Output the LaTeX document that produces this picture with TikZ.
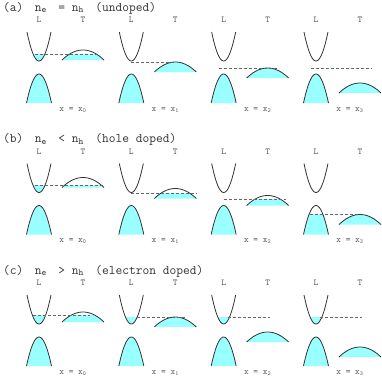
\documentclass[tikz,border=0pt]{standalone}
\usepackage{fontspec}
\definecolor{occcyan}{RGB}{153,255,255}
\newcommand{\carrier}[1]{n\makebox[10pt][l]{\textsubscript{#1}}}
\begin{document}
\begin{tikzpicture}[x=1pt,y=-1pt,
  band/.style={draw=black!80,line width=0.8pt},
  occ/.style={fill=occcyan},
  fermi/.style={draw=black!60,line width=0.6pt,dash pattern=on 3pt off 2pt},
  title/.style={anchor=west,inner sep=0pt,font=\fontsize{13.1}{13.1}\selectfont\ttfamily,text=black!80},
  lab/.style={inner sep=0pt,font=\fontsize{9}{9}\selectfont\ttfamily,text=black!65}]
  \useasboundingbox (0,0) rectangle (382,380);
  % panel titles
  \foreach \pan/\tit in {0/{(a)\hspace{11.4pt}\carrier{e} = \carrier{h}\ (undoped)},
                         1/{(b)\hspace{11.4pt}\carrier{e} < \carrier{h}\ (hole doped)},
                         2/{(c)\hspace{11.4pt}\carrier{e} > \carrier{h}\ (electron doped)}}
    \node[title] (title-\pan) at (3,{8+131.5*\pan}) {\tit};
  % panel/column/top of T band/Fermi level/dashes from/to
  \foreach \pan/\col/\tp/\ef/\da/\db in {0/0/50/54/-4/58, 0/1/62/62/0/44, 0/2/68/68/-5/55, 0/3/83/68/-5/56,
                                         1/0/46/54/-4/65, 1/1/57/62/0/66, 1/2/64/68/0/62, 1/3/83/83/-6/44,
                                         2/0/49/52/-6/51, 2/1/54/54/6/54, 2/2/69/54/4/46, 2/3/84/54/4/46} {
    \pgfmathsetmacro{\Y}{131.5*\pan}
    \pgfmathsetmacro{\X}{39+92.33*\col}
    % L conduction band
    \begin{scope}
      \clip (\X-15,\Y+\ef) rectangle (\X+15,\Y+62);
      \fill[occ] plot[domain=-12:12,samples=25] ({\X+\x},{\Y+61-29*(\x/12)^2}) -- cycle;
    \end{scope}
    \draw[band] plot[domain=-12:12,samples=25] ({\X+\x},{\Y+61-29*(\x/12)^2});
    % L valence band
    \begin{scope}
      \clip (\X-15,\Y+\ef) rectangle (\X+15,\Y+104);
      \fill[occ] plot[domain=-12.5:12.5,samples=25] ({\X+\x},{\Y+74+29*(\x/12.5)^2}) -- cycle;
    \end{scope}
    \draw[band] plot[domain=-12.5:12.5,samples=25] ({\X+\x},{\Y+74+29*(\x/12.5)^2});
    % T band
    \begin{scope}
      \clip (\X+20,\Y+\ef) rectangle (\X+68,\Y+\tp+11);
      \fill[occ] plot[domain=-21:21,samples=25] ({\X+44+\x},{\Y+\tp+10*(\x/21)^2}) -- cycle;
    \end{scope}
    \draw[band] plot[domain=-21:21,samples=25] ({\X+44+\x},{\Y+\tp+10*(\x/21)^2});
    % Fermi level
    \draw[fermi] (\X+\da,\Y+\ef) -- (\X+\db,\Y+\ef);
    % labels
    \node[lab] (L-\pan-\col) at (\X,\Y+20) {L};
    \node[lab] (T-\pan-\col) at (\X+44,\Y+20) {T};
    \node[lab] (x-\pan-\col) at (\X+34,\Y+110) {x = x\textsubscript{\col}};
  }
\end{tikzpicture}
\end{document}
